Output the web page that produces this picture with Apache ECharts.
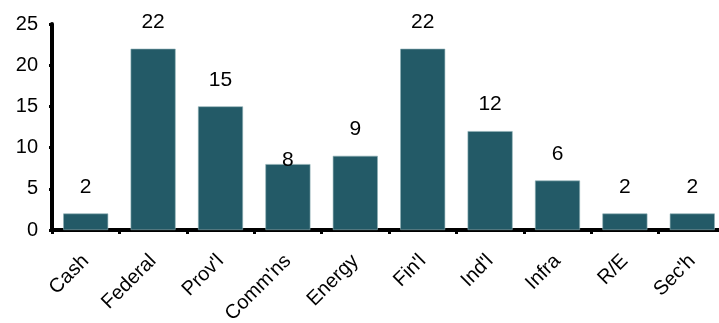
<!DOCTYPE html>
<html>
<head>
<meta charset="utf-8">
<script src="https://cdn.jsdelivr.net/npm/echarts@6/dist/echarts.min.js"></script>
<style>
  html, body { margin: 0; padding: 0; background: #ffffff; }
  #frame { width: 719px; height: 323px; overflow: hidden; position: relative; }
  /* the category axis runs a few pixels past the right edge of the frame */
  #chart { width: 726px; height: 323px; position: absolute; left: 0; top: 0; }
</style>
</head>
<body>
<div id="frame"><div id="chart"></div></div>
<script>
// Holdings by sector (%)
const categories = ["Cash", "Federal", "Prov'l", "Comm'ns", "Energy", "Fin'l", "Ind'l", "Infra", "R/E", "Sec'h"];
const values = [2, 22, 15, 8, 9, 22, 12, 6, 2, 2];
const yTicks = [0, 5, 10, 15, 20, 25];

const FONT = '"Liberation Sans Narrow", "Liberation Sans", Arial, sans-serif';
const BAR = '#235a67';
const INK = '#000000';

// the Comm'ns value label sits down on its bar
const labelDistance = { "Comm'ns": -7 };

const seriesData = values.map((v, i) => {
  const item = { value: v };
  const d = labelDistance[categories[i]];
  if (d !== undefined) item.label = { distance: d };
  return item;
});

const chart = echarts.init(document.getElementById('chart'), null, { renderer: 'canvas' });
chart.setOption({
  animation: false,
  backgroundColor: '#ffffff',
  grid: {
    left: 52, right: 0, top: 24, bottom: 93,
    containLabel: false,
    outerBoundsMode: 'none'
  },
  xAxis: {
    type: 'category',
    data: categories,
    axisLine: { lineStyle: { color: INK, width: 4 } },
    axisTick: { show: true, length: 4, lineStyle: { color: INK, width: 3 }, alignWithLabel: false },
    axisLabel: {
      rotate: 45,
      margin: 28,
      interval: 0,
      color: INK,
      fontFamily: FONT,
      fontSize: 20
    },
    splitLine: { show: false }
  },
  yAxis: {
    type: 'value',
    min: yTicks[0],
    max: yTicks[yTicks.length - 1],
    interval: yTicks[1] - yTicks[0],
    axisLine: { show: true, lineStyle: { color: INK, width: 4 } },
    axisTick: { show: true, length: 3, lineStyle: { color: INK, width: 3 } },
    axisLabel: { margin: 14, color: INK, fontFamily: FONT, fontSize: 20 },
    splitLine: { show: false }
  },
  series: [{
    type: 'bar',
    data: seriesData,
    barWidth: 45,
    itemStyle: { color: BAR, borderColor: '#8fb0b6', borderWidth: 0.6 },
    label: {
      show: true,
      position: 'top',
      distance: 16,
      color: INK,
      fontFamily: FONT,
      fontSize: 21
    }
  }]
});
</script>
</body>
</html>
